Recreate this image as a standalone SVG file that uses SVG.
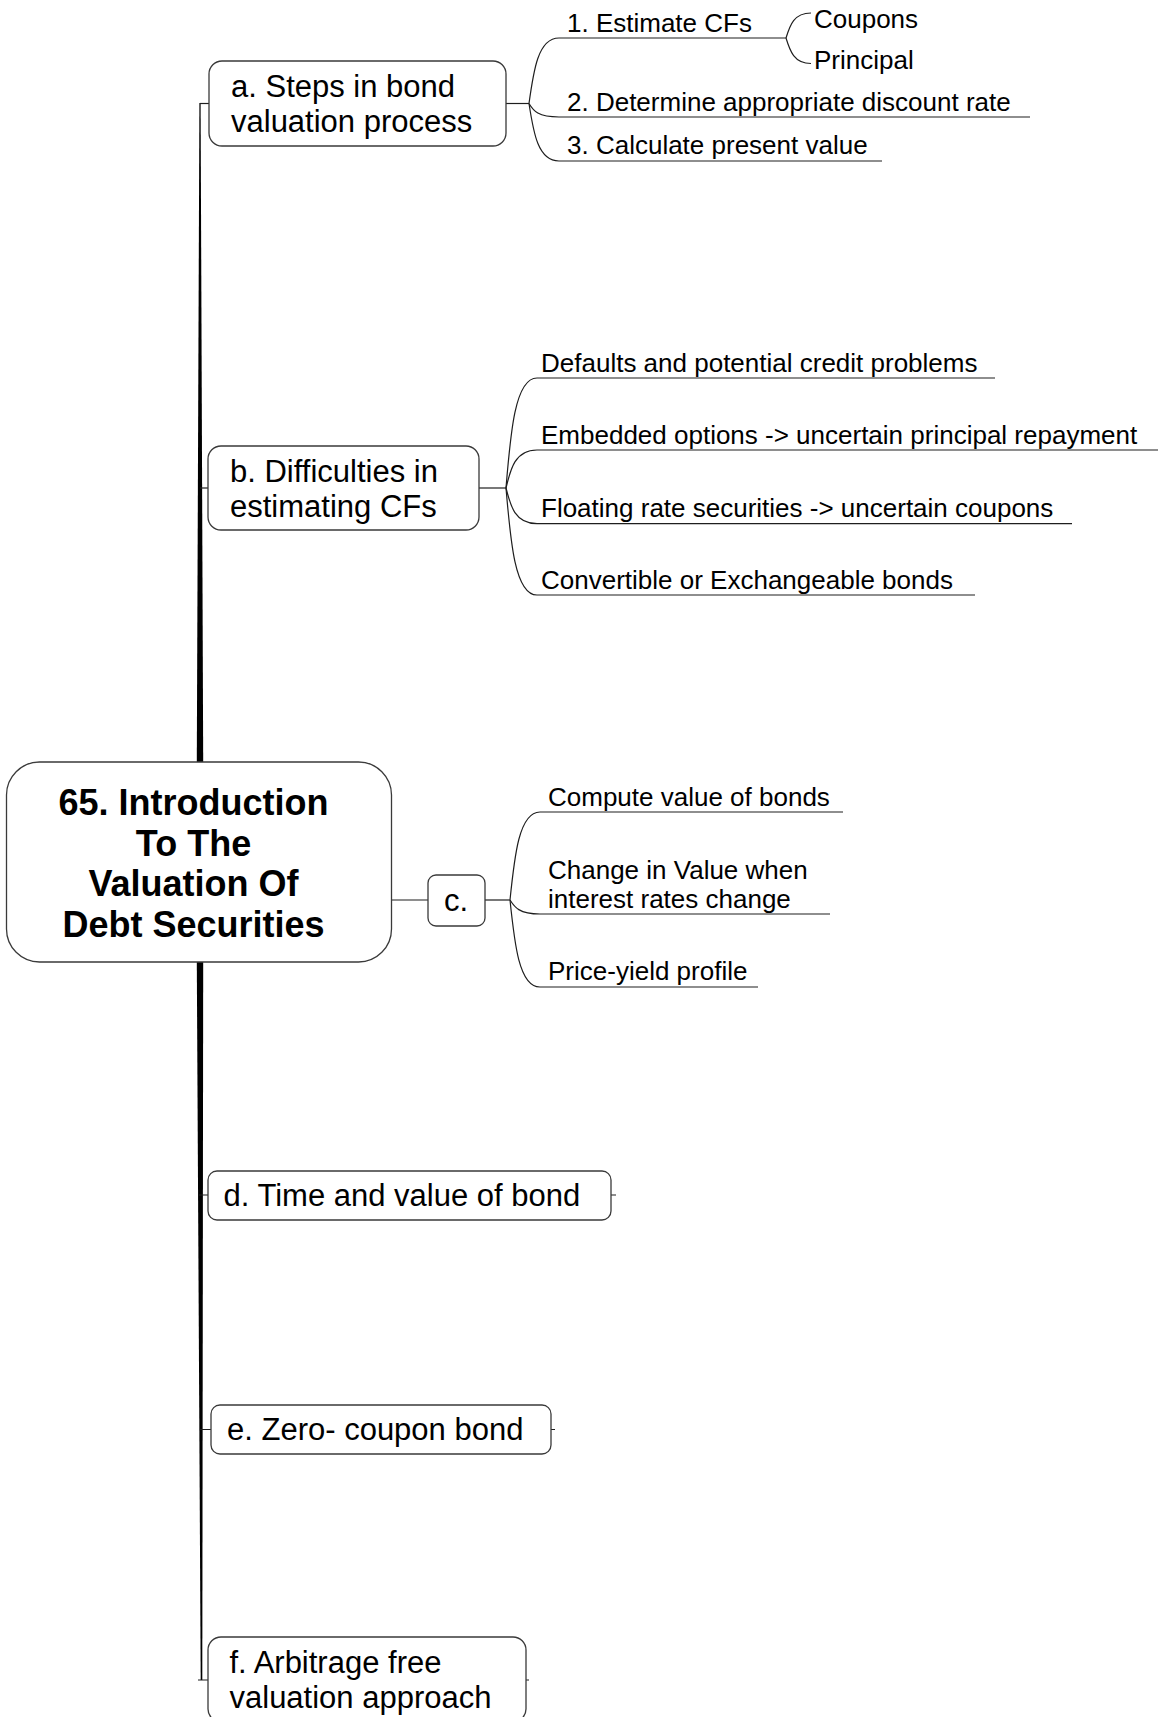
<svg xmlns="http://www.w3.org/2000/svg" width="1160" height="1717" viewBox="0 0 1160 1717">
  <style>
    .box { fill: #ffffff; stroke: #3a3a3a; stroke-width: 1.3; }
    .wire { fill: none; stroke: #1e1e1e; stroke-width: 1.2; }
    .trunk { fill: #000000; stroke: none; }
    text { font-family: "Liberation Sans", Arial, sans-serif; fill: #000000; }
    .title { font-size: 36px; font-weight: bold; text-anchor: middle; }
    .topic { font-size: 31px; }
    .leaf { font-size: 26px; }
  </style>
  <rect width="1160" height="1717" fill="#ffffff"/>

  <!-- connectors -->
  <g id="connectors">
    <!-- tapered trunk above and below the central topic -->
    <polygon class="trunk" points="199.4,103 200.6,103 203.2,762 196.8,762"/>
    <polygon class="trunk" points="196.8,962 203.2,962 202.3,1680 200.7,1680"/>

    <!-- stubs from trunk to main topics -->
    <path class="wire" d="M200 103.5 H209"/>
    <path class="wire" d="M200 488 H208"/>
    <path class="wire" d="M391 900 H428"/>
    <path class="wire" d="M199 1195 H208 M611 1195 H616"/>
    <path class="wire" d="M200 1429.5 H211 M551 1429.5 H555"/>
    <path class="wire" d="M198 1680 H208 M526 1680 H529"/>

    <!-- a. children -->
    <path class="wire" d="M506 103.5 H529"/>
    <path class="wire" d="M529 103.5 C533.5 70.7 538 38 559 38 H786"/>
    <path class="wire" d="M529 103.5 C533.5 111 538 117 559 117 H1030"/>
    <path class="wire" d="M529 103.5 C533.5 133 538 161 559 161 H882"/>
    <!-- 1. Estimate CFs children -->
    <path class="wire" d="M786 38 C790 25 794 13 811 13"/>
    <path class="wire" d="M786 38 C790 51 794 63.5 811 63.5"/>

    <!-- b. children -->
    <path class="wire" d="M479 488 H506"/>
    <path class="wire" d="M506 488 C510.5 433 515 378 537 378 H995"/>
    <path class="wire" d="M506 488 C510.5 469 515 450 537 450 H1158"/>
    <path class="wire" d="M506 488 C510.5 506 515 523.6 537 523.6 H1072"/>
    <path class="wire" d="M506 488 C510.5 541.5 515 595 537 595 H975"/>

    <!-- c. children -->
    <path class="wire" d="M485 900 H510"/>
    <path class="wire" d="M510 900 C514.5 856 519 812 540 812 H843"/>
    <path class="wire" d="M510 900 C514.5 907 519 914 540 914 H830"/>
    <path class="wire" d="M510 900 C514.5 943.5 519 987 540 987 H758"/>
  </g>

  <!-- central topic -->
  <g id="central">
    <rect class="box" x="6.5" y="762" width="385" height="200" rx="33" ry="33"/>
    <text class="title" x="193.5" y="815">65. Introduction</text>
    <text class="title" x="193.5" y="855.5">To The</text>
    <text class="title" x="193.5" y="896">Valuation Of</text>
    <text class="title" x="193.5" y="936.5">Debt Securities</text>
  </g>

  <!-- a. Steps in bond valuation process -->
  <g id="node-a">
    <rect class="box" x="209" y="61" width="297" height="85" rx="13" ry="13"/>
    <text class="topic" x="231" y="97">a. Steps in bond</text>
    <text class="topic" x="231" y="132">valuation process</text>
  </g>
  <g id="node-a1"><text class="leaf" x="567" y="32">1. Estimate CFs</text></g>
  <g id="node-a1-coupons"><text class="leaf" x="814" y="27.5">Coupons</text></g>
  <g id="node-a1-principal"><text class="leaf" x="814" y="69">Principal</text></g>
  <g id="node-a2"><text class="leaf" x="567" y="111">2. Determine appropriate discount rate</text></g>
  <g id="node-a3"><text class="leaf" x="567" y="154">3. Calculate present value</text></g>

  <!-- b. Difficulties in estimating CFs -->
  <g id="node-b">
    <rect class="box" x="208" y="446" width="271" height="84" rx="13" ry="13"/>
    <text class="topic" x="230" y="482">b. Difficulties in</text>
    <text class="topic" x="230" y="517">estimating CFs</text>
  </g>
  <g id="node-b1"><text class="leaf" x="541" y="372">Defaults and potential credit problems</text></g>
  <g id="node-b2"><text class="leaf" x="541" y="444">Embedded options -&gt; uncertain principal repayment</text></g>
  <g id="node-b3"><text class="leaf" x="541" y="517">Floating rate securities -&gt; uncertain coupons</text></g>
  <g id="node-b4"><text class="leaf" x="541" y="589">Convertible or Exchangeable bonds</text></g>

  <!-- c. -->
  <g id="node-c">
    <rect class="box" x="428" y="875" width="57" height="51" rx="8" ry="8"/>
    <text class="topic" x="444" y="911">c.</text>
  </g>
  <g id="node-c1"><text class="leaf" x="548" y="805.5">Compute value of bonds</text></g>
  <g id="node-c2">
    <text class="leaf" x="548" y="879">Change in Value when</text>
    <text class="leaf" x="548" y="908">interest rates change</text>
  </g>
  <g id="node-c3"><text class="leaf" x="548" y="980">Price-yield profile</text></g>

  <!-- d. -->
  <g id="node-d">
    <rect class="box" x="208" y="1171" width="403" height="49" rx="9" ry="9"/>
    <text class="topic" x="223.5" y="1206">d. Time and value of bond</text>
  </g>

  <!-- e. -->
  <g id="node-e">
    <rect class="box" x="211" y="1405" width="340" height="49" rx="9" ry="9"/>
    <text class="topic" x="227" y="1440">e. Zero- coupon bond</text>
  </g>

  <!-- f. -->
  <g id="node-f">
    <rect class="box" x="208" y="1637" width="318" height="85" rx="13" ry="13"/>
    <text class="topic" x="229.5" y="1673">f. Arbitrage free</text>
    <text class="topic" x="229.5" y="1708">valuation approach</text>
  </g>
</svg>
